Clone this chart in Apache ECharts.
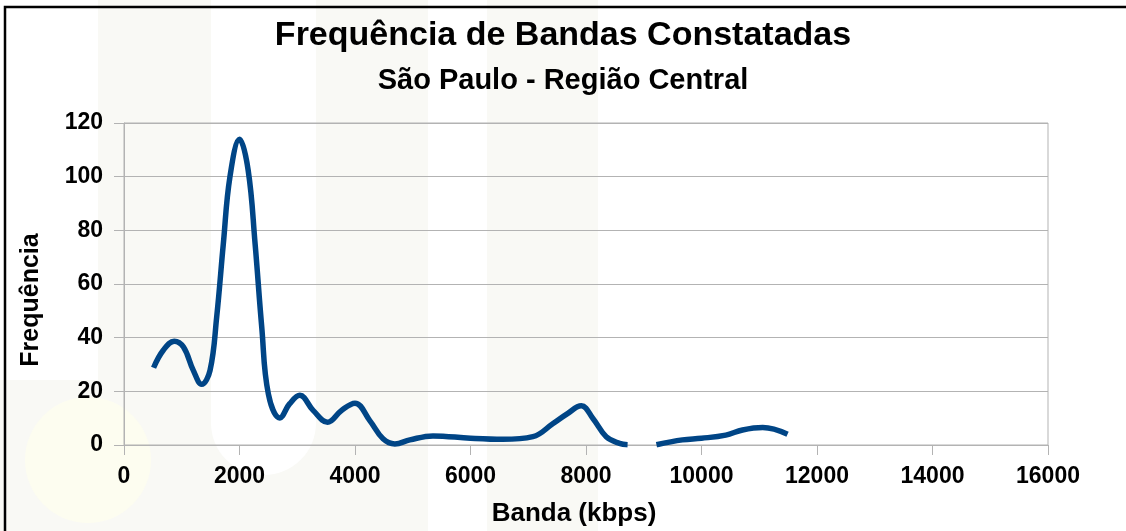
<!DOCTYPE html>
<html>
<head>
<meta charset="utf-8">
<title>Frequência de Bandas Constatadas</title>
<script src="https://cdn.jsdelivr.net/npm/echarts@6/dist/echarts.min.js"></script>
<style>
  html, body { margin: 0; padding: 0; background: #fff; }
  #chart { width: 1126px; height: 531px; }
</style>
</head>
<body>
<div id="chart"></div>
<script>
// valores (banda em kbps, frequência)
const bandaKbps = [
  512, 680, 870, 1030, 1200, 1345, 1490, 1605, 1720, 1835,
  2000, 2150, 2270, 2385, 2500, 2700, 2870, 3045, 3275, 3525,
  3766, 4000, 4256, 4486, 4690, 4950, 5350, 6000, 6560, 7080,
  7430, 7660, 7920, 8120, 8350, 8580, 8720, 8950, 9220, 9670,
  10000, 10420, 10710, 11060, 11490
]
const frequencia = [
  28.8, 35.3, 38.7, 36.5, 27.8, 22.6, 27.8, 47.7, 75, 100,
  113.9, 102.4, 75, 44, 19, 10.1, 15.4, 18.5, 12.9, 8.5,
  12.9, 15.6, 9.1, 2.3, 0.4, 1.9, 3.4, 2.5, 2.1, 3.1,
  8, 11.4, 14.6, 9.9, 3.1, 0.6, 0.1, null, 0.1, 1.9,
  2.5, 3.7, 5.6, 6.5, 4.0
]
const xTicks = [0, 2000, 4000, 6000, 8000, 10000, 12000, 14000, 16000]
const yTicks = [0, 20, 40, 60, 80, 100, 120]

const fontFamily = '"Liberation Sans", Arial, sans-serif'
const gridColor = '#b3b3b3'
const paleColor = '#f9f9f5'

var chart = echarts.init(document.getElementById('chart'))

var seriesData = []
for (var i = 0; i < bandaKbps.length; i++) {
  seriesData.push([bandaKbps[i], frequencia[i]])
}

chart.setOption({
  backgroundColor: '#fff',
  animation: false,
  // marca d'água clara no fundo e moldura preta
  graphic: [
    { type: 'rect', z: -10, silent: true, shape: { x: 98, y: 0, width: 330, height: 531 }, style: { fill: paleColor } },
    { type: 'rect', z: -9, silent: true, shape: { x: 211, y: -60, width: 105, height: 535, r: 52 }, style: { fill: '#fff' } },
    { type: 'rect', z: -10, silent: true, shape: { x: 487, y: 0, width: 111, height: 531 }, style: { fill: paleColor } },
    { type: 'rect', z: -10, silent: true, shape: { x: 0, y: 380, width: 98, height: 200 }, style: { fill: paleColor } },
    { type: 'circle', z: -8, silent: true, shape: { cx: 88, cy: 460, r: 63 }, style: { fill: '#fdfdf0' } },
    { type: 'rect', z: 100, silent: true, shape: { x: 5, y: 7, width: 1300, height: 700 }, style: { fill: 'none', stroke: '#000', lineWidth: 2.5 } }
  ],
  title: [
    {
      text: 'Frequência de Bandas Constatadas',
      left: 'center',
      top: 19,
      padding: 0,
      textStyle: { fontFamily: fontFamily, fontSize: 34, fontWeight: 'bold', color: '#000' }
    },
    {
      text: 'São Paulo - Região Central',
      left: 'center',
      top: 66,
      padding: 0,
      textStyle: { fontFamily: fontFamily, fontSize: 29, fontWeight: 'bold', color: '#000' }
    }
  ],
  grid: {
    left: 124,
    right: 78,
    top: 123,
    bottom: 86,
    show: true,
    backgroundColor: 'transparent',
    borderColor: gridColor,
    borderWidth: 1,
    outerBoundsMode: 'none'
  },
  xAxis: {
    type: 'value',
    min: xTicks[0],
    max: xTicks[xTicks.length - 1],
    interval: xTicks[1] - xTicks[0],
    name: 'Banda (kbps)',
    nameLocation: 'middle',
    nameGap: 56,
    nameTextStyle: { fontFamily: fontFamily, fontSize: 26, fontWeight: 'bold', color: '#000', padding: [0, 24, 0, 0] },
    axisLine: { show: true, lineStyle: { color: gridColor, width: 1 } },
    axisTick: { show: true, length: 10, lineStyle: { color: gridColor } },
    axisLabel: {
      margin: 20,
      fontFamily: fontFamily,
      fontSize: 23,
      fontWeight: 'bold',
      color: '#000',
      formatter: function (v) { return String(v) }
    },
    splitLine: { show: false }
  },
  yAxis: {
    type: 'value',
    min: yTicks[0],
    max: yTicks[yTicks.length - 1],
    interval: yTicks[1] - yTicks[0],
    name: 'Frequência',
    nameLocation: 'middle',
    nameRotate: 90,
    nameGap: 80,
    nameTextStyle: { fontFamily: fontFamily, fontSize: 25, fontWeight: 'bold', color: '#000', padding: [0, 32, 0, 0] },
    axisLine: { show: true, lineStyle: { color: gridColor, width: 1 } },
    axisTick: { show: true, length: 10, lineStyle: { color: gridColor } },
    axisLabel: { margin: 21, fontFamily: fontFamily, fontSize: 23, fontWeight: 'bold', color: '#000' },
    splitLine: { show: true, lineStyle: { color: gridColor, width: 1 } }
  },
  series: [{
    type: 'line',
    data: seriesData,
    smooth: 0.4,
    showSymbol: false,
    connectNulls: false,
    lineStyle: { color: '#004586', width: 5.5 },
    itemStyle: { color: '#004586' }
  }]
})
</script>
</body>
</html>
